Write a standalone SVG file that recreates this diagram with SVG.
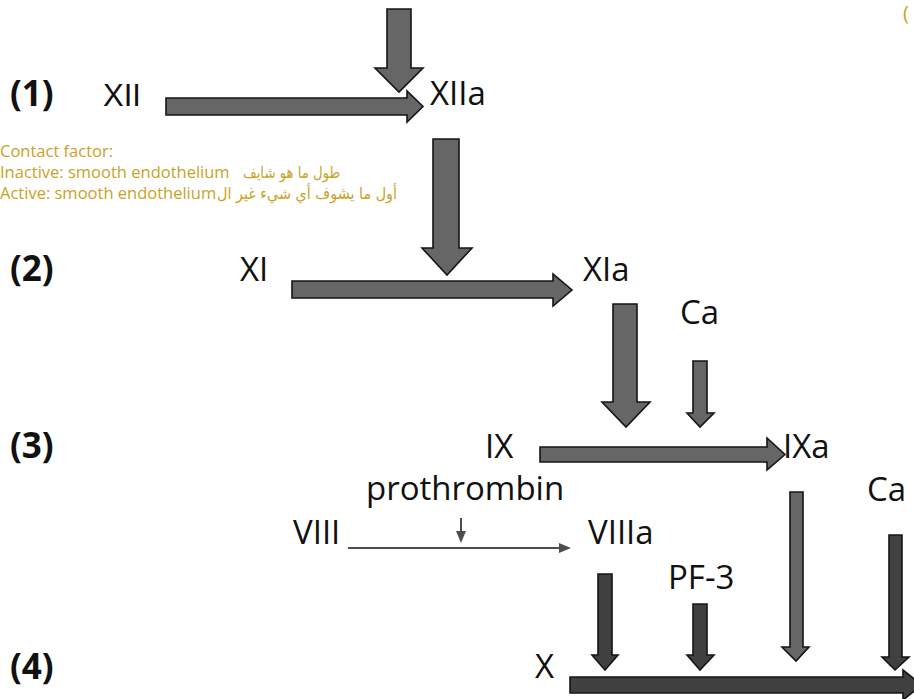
<svg xmlns="http://www.w3.org/2000/svg" width="914" height="699" viewBox="0 0 914 699">
<style>
.lbl{font-family:"Open Sans","Noto Sans","DejaVu Sans",sans-serif;font-size:33px;fill:#111}
.step{font-family:"Open Sans","Liberation Sans",sans-serif;font-size:35px;font-weight:bold;fill:#111}
.xii{font-family:"Liberation Sans",Arial,sans-serif;font-size:31px;fill:#111}
.note{font-family:"Open Sans","DejaVu Sans",sans-serif;font-size:16.5px;fill:#C9A227}
.ar{font-family:"DejaVu Sans","Noto Sans",sans-serif;font-size:16px;fill:#C9A227}
.blk{fill:#666;stroke:#151515;stroke-width:1.6;stroke-linejoin:miter}
.blkd{fill:#404040;stroke:#151515;stroke-width:1.6;stroke-linejoin:miter}
.thin{stroke:#4d4d4d;stroke-width:2;fill:none}
</style>
<defs>
<marker id="tri" markerWidth="12" markerHeight="10" refX="0" refY="5" orient="auto" markerUnits="userSpaceOnUse">
<path d="M0,0 L12,5 L0,10 Z" fill="#4d4d4d"/>
</marker>
</defs>
<rect width="914" height="699" fill="#fff"/>

<g id="connectors">
<polygon class="blk" points="387,9 411,9 411,68 423,68 399,92 375,68 387,68"/>
<polygon class="blk" points="166,98 407,98 407,91 423,106.5 407,122 407,115 166,115"/>
<polygon class="blk" points="433,139 459,139 459,248 472,248 447,275 422,248 433,248"/>
<polygon class="blk" points="292,281 553,281 553,274 572,290 553,306 553,298 292,298"/>
<polygon class="blk" points="613,304 637,304 637,402 650,402 626,427 602,402 613,402"/>
<polygon class="blk" points="693,361 707,361 707,413 714,413 700,427 687,413 693,413"/>
<polygon class="blk" points="540,447 767,447 767,438 785,454.5 767,470 767,462 540,462"/>
<line class="thin" x1="348" y1="548" x2="559" y2="548" marker-end="url(#tri)"/>
<line class="thin" x1="461" y1="518" x2="461" y2="531" marker-end="url(#tri)"/>
<polygon class="blkd" points="598,574 612,574 612,655 618,655 605,670 592,655 598,655"/>
<polygon class="blkd" points="693,604 707,604 707,655 714,655 700,670 687,655 693,655"/>
<polygon class="blk" points="790,492 803,492 803,647 809,647 796,661 782,647 790,647"/>
<polygon class="blkd" points="889,535 902,535 902,657 909,657 895,670 882,657 889,657"/>
<polygon class="blkd" points="570,677 903,677 903,670 922,685 903,700 903,693 570,693"/>
</g>

<g id="steps">
<text class="step" x="10" y="106">(1)</text>
<text class="step" x="10" y="281">(2)</text>
<text class="step" x="10" y="458">(3)</text>
<text class="step" x="10" y="679">(4)</text>
</g>

<g id="node-XII"><text class="xii" x="103" y="106">XII</text></g>
<g id="node-XIIa"><text class="lbl" x="430" y="105">XIIa</text></g>
<g id="node-XI"><text class="lbl" x="240" y="281">XI</text></g>
<g id="node-XIa"><text class="lbl" x="583" y="281">XIa</text></g>
<g id="node-Ca1"><text class="lbl" x="680" y="324">Ca</text></g>
<g id="node-IX"><text class="lbl" x="485" y="458">IX</text></g>
<g id="node-IXa"><text class="lbl" x="783" y="458">IXa</text></g>
<g id="node-prothrombin"><text class="lbl" x="366" y="500">prothrombin</text></g>
<g id="node-Ca2"><text class="lbl" x="867" y="501">Ca</text></g>
<g id="node-VIII"><text class="lbl" x="293" y="544">VIII</text></g>
<g id="node-VIIIa"><text class="lbl" x="588" y="544">VIIIa</text></g>
<g id="node-PF3"><text class="lbl" x="668" y="589">PF-3</text></g>
<g id="node-X"><text class="lbl" x="535" y="678">X</text></g>

<g id="note">
<text class="note" x="0" y="157">Contact factor:</text>
<text class="note" x="0" y="178">Inactive: smooth endothelium</text>
<text class="ar" x="243" y="178" textLength="97" lengthAdjust="spacingAndGlyphs">طول ما هو شايف</text>
<text class="note" x="0" y="199">Active: smooth endothelium</text>
<text class="ar" x="217" y="199" textLength="180" lengthAdjust="spacingAndGlyphs">أول ما يشوف أي شيء غير ال</text>
<text class="note" x="903" y="20" style="font-size:20px">(</text>
</g>
</svg>
